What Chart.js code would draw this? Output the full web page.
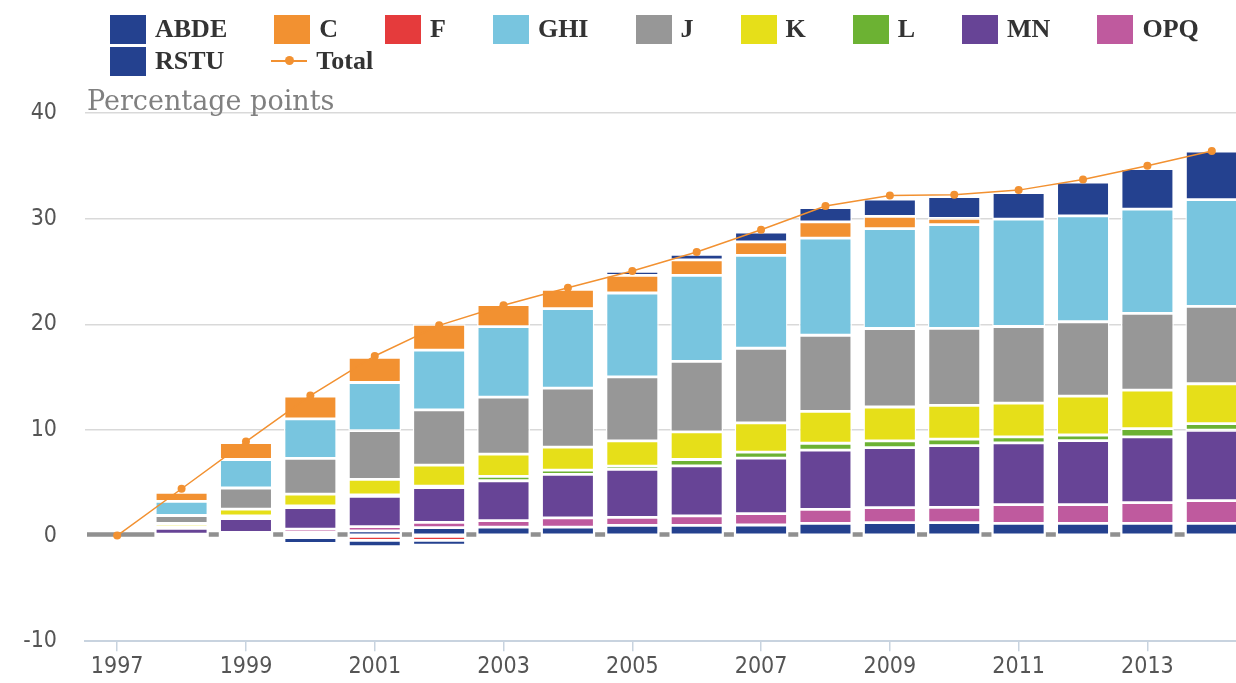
<!DOCTYPE html>
<html lang="en">
<head>
    <meta charset="UTF-8">
    <title>Contributions by sector</title>
    <style>
        body {
            margin: 0;
            padding: 0;
            background-color: #ffffff;
            overflow: hidden;
        }

        .chart-wrap {
            position: relative;
            width: 1236px;
            height: 683px;
            overflow: hidden;
        }

        #sectorChart {
            position: absolute;
            left: 0;
            top: 0;
        }

        .legend {
            position: absolute;
            left: 110px;
            top: 13px;
            width: 1160px;
            display: flex;
            flex-wrap: wrap;
            font-family: 'Liberation Serif', serif;
            font-weight: bold;
            font-size: 26px;
            color: #333333;
        }

        .legend-item {
            display: flex;
            align-items: center;
            height: 32px;
            margin-right: 47px;
        }

        .legend-box {
            width: 36px;
            height: 29px;
            margin-right: 9px;
        }

        .legend-line {
            position: relative;
            width: 36px;
            height: 2px;
            margin-right: 9px;
        }

        .legend-line span {
            position: absolute;
            left: 14px;
            top: -4px;
            width: 9px;
            height: 9px;
            border-radius: 50%;
        }
    </style>
    <script src="https://cdn.jsdelivr.net/npm/chart.js"></script>
</head>
<body>
    <div class="chart-wrap">
        <canvas id="sectorChart" width="1248" height="683"></canvas>
        <div class="legend" id="legend"></div>
    </div>

    <script>
        const years = ['1997', '1998', '1999', '2000', '2001', '2002', '2003', '2004', '2005',
                       '2006', '2007', '2008', '2009', '2010', '2011', '2012', '2013', '2014'];

        // contributions, percentage points
        const abde = [0, 0, 0, -0.55, -0.6, -0.45, 0, 0, 0.38, 0.53, 0.93, 1.34, 1.63, 2.05, 2.5, 3.2, 3.83, 4.6];
        const c    = [0, 0.87, 1.6, 2.16, 2.39, 2.45, 2.08, 1.82, 1.66, 1.48, 1.27, 1.55, 1.16, 0.6, 0, 0, 0, 0];
        const f    = [0, 0, 0, -0.2, -0.45, -0.45, 0, 0, 0, 0, 0, 0, 0, 0, 0, 0, 0, 0];
        const ghi  = [0, 1.33, 2.7, 3.74, 4.56, 5.66, 6.67, 7.52, 7.93, 8.14, 8.8, 9.19, 9.46, 9.81, 10.17, 10.03, 9.87, 10.1];
        const j    = [0, 0.76, 2.0, 3.37, 4.62, 5.23, 5.41, 5.59, 6.07, 6.67, 7.07, 7.2, 7.43, 7.29, 7.25, 7.05, 7.27, 7.33];
        const k    = [0, 0.3, 0.65, 1.13, 1.45, 1.98, 2.1, 2.17, 2.39, 2.61, 2.77, 3.02, 3.21, 3.21, 3.2, 3.67, 3.65, 3.77];
        const l    = [0, 0.15, 0.25, 0.16, 0.15, 0.15, 0.41, 0.41, 0.31, 0.6, 0.56, 0.66, 0.63, 0.6, 0.57, 0.53, 0.78, 0.63];
        const mn   = [0, 0.55, 1.3, 2.04, 2.86, 3.28, 3.77, 4.12, 4.53, 4.74, 5.25, 5.6, 5.69, 5.85, 5.85, 6.07, 6.23, 6.67];
        const opq  = [0, 0.07, 0.15, 0.3, 0.4, 0.5, 0.63, 0.88, 0.76, 0.89, 1.08, 1.32, 1.41, 1.44, 1.76, 1.76, 1.95, 2.14];
        const rstu = [0, 0.07, 0.15, 0.3, 0.45, 0.75, 0.79, 0.79, 0.97, 0.97, 1.0, 1.16, 1.23, 1.23, 1.16, 1.16, 1.16, 1.16];
        const total = [0, 4.43, 8.9, 13.25, 17.0, 19.9, 21.8, 23.45, 25.05, 26.85, 28.95, 31.2, 32.2, 32.25, 32.7, 33.7, 35.0, 36.4];

        const yTicks = [-10, 0, 10, 20, 30, 40];
        const yTitle = 'Percentage points';

        const colors = {
            ABDE: '#24418f',
            C: '#f29131',
            F: '#e53b3c',
            GHI: '#78c5df',
            J: '#979797',
            K: '#e6df19',
            L: '#6cb233',
            MN: '#674496',
            OPQ: '#bf5a9e',
            RSTU: '#24418f',
            Total: '#f29131'
        };

        // legend order as in the original, stacking goes bottom-up (RSTU first)
        const legendOrder = ['ABDE', 'C', 'F', 'GHI', 'J', 'K', 'L', 'MN', 'OPQ', 'RSTU'];
        const stackOrder = [
            ['RSTU', rstu], ['OPQ', opq], ['MN', mn], ['L', l], ['K', k],
            ['J', j], ['GHI', ghi], ['F', f], ['C', c], ['ABDE', abde]
        ];

        function barSet(name, values) {
            return {
                type: 'bar',
                label: name,
                data: values,
                backgroundColor: colors[name],
                borderColor: '#ffffff',
                borderWidth: 1.4,
                borderSkipped: false,
                barPercentage: 0.82,
                categoryPercentage: 1,
                stack: 'sectors',
                order: 1
            };
        }

        const datasets = stackOrder.map(s => barSet(s[0], s[1]));
        datasets.push({
            type: 'line',
            label: 'Total',
            data: total,
            borderColor: colors.Total,
            borderWidth: 1.5,
            pointRadius: 4,
            pointBackgroundColor: colors.Total,
            pointBorderWidth: 0,
            tension: 0,
            stack: 'total',
            order: 0
        });

        // html legend
        const legendEl = document.getElementById('legend');
        legendOrder.concat(['Total']).forEach(name => {
            const item = document.createElement('div');
            item.className = 'legend-item';
            if (name === 'Total') {
                const ln = document.createElement('div');
                ln.className = 'legend-line';
                ln.style.backgroundColor = colors.Total;
                const dot = document.createElement('span');
                dot.style.backgroundColor = colors.Total;
                ln.appendChild(dot);
                item.appendChild(ln);
            } else {
                const box = document.createElement('div');
                box.className = 'legend-box';
                box.style.backgroundColor = colors[name];
                item.appendChild(box);
            }
            const txt = document.createElement('span');
            txt.textContent = name;
            item.appendChild(txt);
            legendEl.appendChild(item);
        });

        // thick grey zero line, only visible where no column stands
        const zeroLine = {
            id: 'zeroLine',
            beforeDatasetsDraw(chart) {
                const { ctx, chartArea, scales } = chart;
                const y0 = scales.y.getPixelForValue(0) - 1;
                const bars = chart.getDatasetMeta(0).data;
                let x = chartArea.left + 2;
                ctx.save();
                ctx.strokeStyle = '#909090';
                ctx.lineWidth = 4.5;
                ctx.beginPath();
                bars.forEach((bar, i) => {
                    const used = stackOrder.some(s => s[1][i] !== 0);
                    if (!used) return;
                    const a = bar.x - bar.width / 2 - 0.8;
                    const b = bar.x + bar.width / 2 + 0.8;
                    if (a > x) {
                        ctx.moveTo(x, y0);
                        ctx.lineTo(a, y0);
                    }
                    x = Math.max(x, b);
                });
                if (x < chartArea.right) {
                    ctx.moveTo(x, y0);
                    ctx.lineTo(chartArea.right, y0);
                }
                ctx.stroke();
                ctx.restore();
            }
        };

        // unit label sitting on the top grid line
        const unitLabel = {
            id: 'unitLabel',
            afterDraw(chart) {
                const { ctx, chartArea } = chart;
                ctx.save();
                ctx.font = "27px 'DejaVu Serif', serif";
                ctx.fillStyle = '#808080';
                ctx.textAlign = 'left';
                ctx.textBaseline = 'alphabetic';
                ctx.fillText(yTitle, chartArea.left + 2, chartArea.top - 3);
                ctx.restore();
            }
        };

        const tickFont = { family: "'DejaVu Sans Condensed', 'DejaVu Sans', sans-serif", size: 23 };

        new Chart(document.getElementById('sectorChart'), {
            data: {
                labels: years,
                datasets: datasets
            },
            options: {
                responsive: false,
                animation: false,
                layout: {
                    padding: { left: 0, right: 0, top: 113, bottom: 0 }
                },
                plugins: {
                    legend: { display: false },
                    tooltip: { enabled: false }
                },
                scales: {
                    x: {
                        stacked: true,
                        offset: true,
                        grid: {
                            offset: false,
                            drawOnChartArea: false,
                            drawTicks: true,
                            tickLength: 10,
                            lineWidth: 1.5,
                            color: ctx => (ctx.index % 2 === 0 ? '#c8d3df' : 'rgba(0,0,0,0)')
                        },
                        border: { display: true, color: '#c8d3df', width: 2 },
                        ticks: {
                            autoSkip: false,
                            maxRotation: 0,
                            padding: 2,
                            color: '#555555',
                            font: tickFont,
                            callback: (value, index) => (index % 2 === 0 ? years[index] : '')
                        },
                        afterFit: scale => { scale.height = 40; }
                    },
                    y: {
                        stacked: true,
                        min: -10,
                        max: 40,
                        afterBuildTicks: scale => {
                            scale.ticks = yTicks.map(v => ({ value: v }));
                        },
                        grid: {
                            drawTicks: false,
                            color: ctx => {
                                if (ctx.tick.value === 0) return 'rgba(0,0,0,0)';
                                if (ctx.tick.value === -10) return '#c8d3df';
                                return '#d9d9d9';
                            },
                            lineWidth: 1.5
                        },
                        border: { display: false },
                        ticks: {
                            padding: 28,
                            color: '#555555',
                            font: tickFont
                        },
                        afterFit: scale => { scale.width = 85; }
                    }
                }
            },
            plugins: [zeroLine, unitLabel]
        });
    </script>
</body>
</html>
